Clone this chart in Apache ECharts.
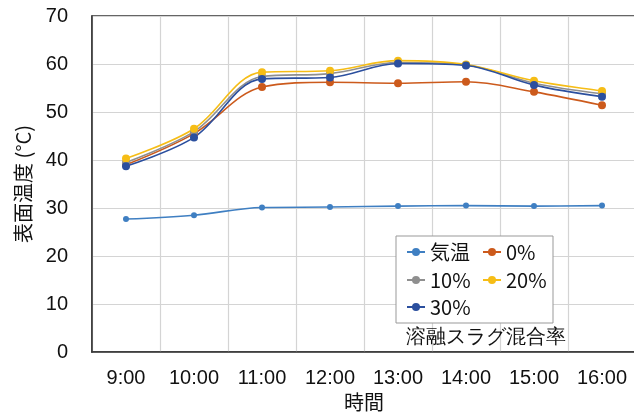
<!DOCTYPE html>
<html><head><meta charset="utf-8">
<script src="https://cdn.jsdelivr.net/npm/echarts@6/dist/echarts.min.js"></script>
<style>html,body{margin:0;padding:0;background:#fff}#c{width:634px;height:412px}</style>
</head><body><div id="c"></div>
<script>
var categories = ['9:00','10:00','11:00','12:00','13:00','14:00','15:00','16:00'];
var airTemp = [27.7, 28.5, 30.1, 30.2, 30.4, 30.5, 30.4, 30.5];
var slag0   = [39.0, 45.5, 55.2, 56.2, 56.0, 56.3, 54.2, 51.4];
var slag10  = [39.5, 45.9, 57.4, 58.0, 60.3, 59.8, 56.0, 53.8];
var slag20  = [40.3, 46.5, 58.3, 58.6, 60.7, 59.9, 56.5, 54.4];
var slag30  = [38.7, 44.7, 56.9, 57.2, 60.1, 59.7, 55.6, 53.2];
var yTicks  = {min: 0, max: 70, interval: 10};

var FONT = '"Liberation Sans", Arial, "Noto Sans CJK JP", sans-serif';
var JFONT = '"Noto Sans CJK JP", "Liberation Sans", sans-serif';

function mk(name, data, color, size) {
  return {
    name: name, type: 'line', data: data, smooth: 0.35,
    symbol: 'circle', symbolSize: size,
    lineStyle: {color: color, width: 1.6},
    itemStyle: {color: color},
    z: 3
  };
}
function lg(name, left, top) {
  return {
    data: [name], left: left, top: top, orient: 'horizontal', padding: 0,
    itemWidth: 18, itemHeight: 10, itemGap: 0,
    textStyle: {fontSize: 20, color: '#111', fontFamily: JFONT},
    z: 6, selectedMode: false
  };
}
var chart = echarts.init(document.getElementById('c'), null, {renderer: 'canvas'});
chart.setOption({
  animation: false,
  backgroundColor: '#fff',
  grid: {left: 92, top: 16, width: 544, height: 336, show: true, borderColor: '#333', borderWidth: 1.5, containLabel: false, outerBoundsMode: 'none'},
  xAxis: {
    type: 'category', data: categories, boundaryGap: true,
    name: '時間', nameLocation: 'middle', nameGap: 32,
    nameTextStyle: {fontSize: 20, color: '#111', fontFamily: JFONT},
    axisLine: {lineStyle: {color: '#333', width: 1.5}},
    axisTick: {show: false},
    axisLabel: {fontSize: 20, color: '#111', fontFamily: FONT, margin: 16},
    splitLine: {show: true, lineStyle: {color: '#d4d4d4', width: 1.2}}
  },
  yAxis: {
    type: 'value', min: yTicks.min, max: yTicks.max, interval: yTicks.interval,
    name: '表面温度 (°C)', nameLocation: 'middle', nameGap: 59, nameRotate: 90,
    nameTextStyle: {fontSize: 20, color: '#111', fontFamily: JFONT},
    axisLine: {show: true, lineStyle: {color: '#333', width: 1.5}},
    axisTick: {show: false},
    axisLabel: {fontSize: 20, color: '#111', fontFamily: FONT, margin: 24},
    splitLine: {show: true, lineStyle: {color: '#d4d4d4', width: 1.2}}
  },
  legend: [
    lg('気温', 406, 242),
    lg('0%', 482, 242),
    lg('10%', 406, 270),
    lg('20%', 482, 270),
    lg('30%', 406, 297)
  ],
  graphic: [
    {type: 'rect', shape: {x: 396, y: 236, width: 157, height: 87}, style: {fill: '#fff', stroke: '#999', lineWidth: 1}, z: 5},
    {type: 'text', x: 486, y: 337, z: 5, style: {text: '溶融スラグ混合率', fontSize: 20, fill: '#111', font: '20px ' + JFONT, align: 'center', verticalAlign: 'middle'}}
  ],
  series: [
    mk('気温', airTemp, '#3f7fc2', 6),
    mk('0%', slag0, '#cc5a1c', 8),
    mk('10%', slag10, '#8f8f8f', 8),
    mk('20%', slag20, '#f6bd16', 8),
    mk('30%', slag30, '#2b4f9e', 8)
  ]
});
</script></body></html>
